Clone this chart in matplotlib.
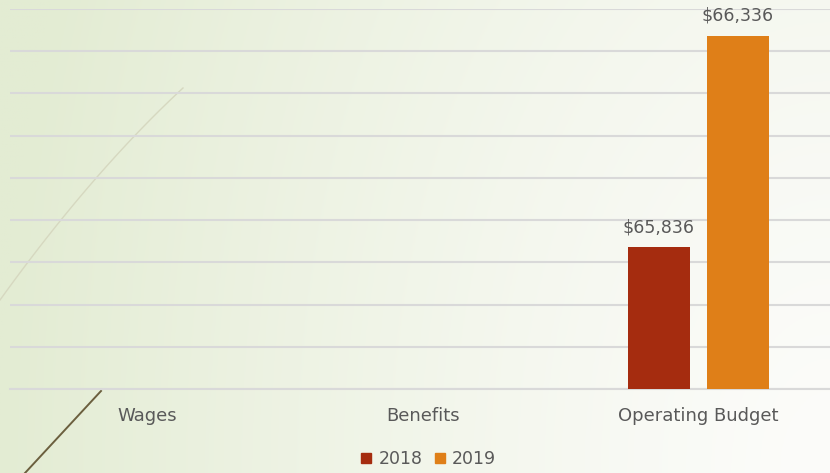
import matplotlib.pyplot as plt
import numpy as np
from matplotlib.lines import Line2D

categories = ["Wages", "Benefits", "Operating Budget"]
series_names = ["2018", "2019"]
values_2018 = [0, 0, 65836]
values_2019 = [0, 0, 66336]
labels_2018 = ["", "", "$65,836"]
labels_2019 = ["", "", "$66,336"]
colors = ["#A52C0F", "#DF7F18"]

plt.rcParams['font.family'] = ['DejaVu Sans']
W, H = 830, 473
fig = plt.figure(figsize=(W/100, H/100), dpi=100)

# background gradient
bg = fig.add_axes([0, 0, 1, 1], zorder=-10)
xx, yy = np.meshgrid(np.linspace(0, 1, 300), np.linspace(0, 1, 200))
t = np.clip(np.sqrt((1.0 - xx) ** 2 + (0.35 * yy) ** 2), 0, 1) ** 1.3
c0 = np.array([252, 252, 250]) / 255
c1 = np.array([227, 236, 211]) / 255
img = c0[None, None, :] * (1 - t[..., None]) + c1[None, None, :] * t[..., None]
bg.imshow(img, extent=[0, 1, 0, 1], origin='lower', aspect='auto')
# decorative strokes
s = np.linspace(0, 1, 50)
bg.plot(0 + 183/W * s, 1 - (300 - 212 * (s + 0.2 * s * (1 - s))) / H, color="#d6d8c0", lw=1.0)
bg.plot([25/W, 101/W], [1 - 473/H, 1 - 391/H], color="#6b5f3e", lw=1.4)
bg.set_xlim(0, 1); bg.set_ylim(0, 1)
bg.axis('off')

ax = fig.add_axes([10/W, 1 - 389/H, 826/W, 380/H])
ax.patch.set_alpha(0)
x = np.arange(len(categories))
bw = 0.226
off = 0.144
b1 = ax.bar(x - off, values_2018, bw, color=colors[0], label=series_names[0], zorder=3)
b2 = ax.bar(x + off, values_2019, bw, color=colors[1], label=series_names[1], zorder=3)
ax.bar_label(b1, labels=labels_2018, padding=8, fontsize=12.5, color="#595959")
ax.bar_label(b2, labels=labels_2019, padding=8, fontsize=12.5, color="#595959")

ax.set_ylim(65500, 66400)
ax.set_yticks(np.arange(65500, 66401, 100))
ax.yaxis.grid(True, color="#d9d9d9", lw=1.5, zorder=0)
ax.set_xlim(-0.5, 2.5)
ax.set_xticks(x)
ax.set_xticklabels(categories, fontsize=13, color="#595959")
ax.tick_params(axis='x', length=0, pad=13)
ax.tick_params(axis='y', length=0, labelleft=False)
for sp in ["top", "right", "left"]:
    ax.spines[sp].set_visible(False)
ax.spines["bottom"].set_color("#d9d9d9")
ax.spines["bottom"].set_linewidth(1.5)

handles = [Line2D([], [], marker='s', ls='', color=c, markersize=7.5) for c in colors]
fig.legend(handles, series_names, loc='center', bbox_to_anchor=(426/W, 1 - 459/H),
           ncol=2, frameon=False, fontsize=12.5, labelcolor="#595959",
           handletextpad=0.1, columnspacing=0.4, handlelength=1.2)

fig.savefig("out.png", dpi=100)
